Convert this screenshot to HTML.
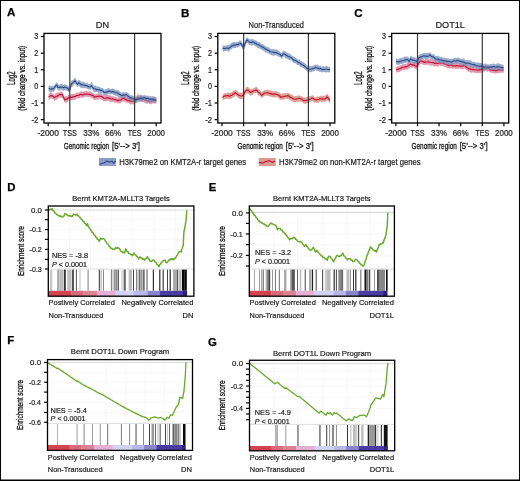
<!DOCTYPE html><html><head><meta charset="utf-8"><style>html,body{margin:0;padding:0;background:#fff;overflow:hidden}svg{display:block;will-change:transform}</style></head><body>
<svg width="520" height="481" viewBox="0 0 520 481" font-family="&quot;Liberation Sans&quot;, sans-serif">
<rect x="0" y="0" width="520" height="481" fill="#fff"/>
<polygon points="48.6,93.84 49.8,92.95 51,92.14 52.13,92.95 53.27,93.93 54.4,95.04 55.55,93.77 56.7,93.1 57.85,92.54 59,92.15 60.45,91.85 61.9,91.47 63.35,93.54 64.8,96.97 65.95,96.1 67.1,96.33 68.25,94.66 69.4,95.39 70.55,94.47 71.7,94.16 72.85,93.64 74,93.9 75.15,93.43 76.3,92.97 77.47,92.22 78.63,92.75 79.8,91.99 80.94,91.05 82.08,91.8 83.22,91.62 84.36,91.14 85.5,91.31 86.67,90.62 87.85,91.53 89.03,91.46 90.2,90.96 91.35,92.24 92.5,92.78 93.65,93.13 94.8,94.4 95.95,94.04 97.1,93.84 98.25,93.57 99.4,92.9 100.55,93.43 101.7,93.84 102.85,94.81 104,95.29 105.45,95.04 106.9,94.73 108.05,95.07 109.2,95.2 110.35,95.29 111.5,96.18 112.65,96.13 113.8,96.43 114.96,96.87 116.12,97.26 117.28,97.43 118.44,97.62 119.6,97.07 120.73,96.76 121.87,95.87 123,95.15 124,95.85 125,96.23 126,96.48 127,97.31 128,96.68 129,97.86 130,98.09 131.15,98.41 132.3,97.8 133.45,98.29 134.6,98.4 135.73,97.66 136.87,95.31 138,94.29 139.16,94.61 140.32,95.36 141.48,95.93 142.64,96.62 143.8,96.77 144.96,97.05 146.12,96.4 147.28,97.85 148.44,97.67 149.6,97.63 150.72,98.37 151.83,98.03 152.95,96.92 154.07,97.04 155.18,97.84 156.3,96.41 156.3,102.86 155.18,103.71 154.07,103.33 152.95,103.18 151.83,104.12 150.72,104.26 149.6,104.09 148.44,103.36 147.28,103.96 146.12,103.15 144.96,103 143.8,102.1 142.64,102.19 141.48,101.52 140.32,101.38 139.16,100.47 138,100.37 136.87,101.19 135.73,103.32 134.6,104.13 133.45,104.72 132.3,103.77 131.15,104.8 130,104.24 129,103.5 128,102.84 127,103.41 126,102.32 125,102.35 124,101.8 123,101.62 121.87,101.6 120.73,103.14 119.6,103.6 118.44,103.14 117.28,103.13 116.12,102.59 114.96,102.79 113.8,102.07 112.65,101.67 111.5,101.88 110.35,101.64 109.2,100.93 108.05,100.96 106.9,100.77 105.45,101.43 104,101.32 102.85,100.86 101.7,99.6 100.55,99.01 99.4,98.82 98.25,99.69 97.1,99.76 95.95,99.56 94.8,100.37 93.65,99.47 92.5,98.15 91.35,98.58 90.2,96.79 89.03,97.31 87.85,97.22 86.67,96.7 85.5,96.8 84.36,96.8 83.22,97.72 82.08,98 80.94,97.15 79.8,98.02 78.63,98.44 77.47,98.37 76.3,98.62 75.15,100.06 74,99.71 72.85,99.98 71.7,100.37 70.55,100.35 69.4,101.02 68.25,100.63 67.1,102.51 65.95,102.44 64.8,102.91 63.35,99.56 61.9,97.65 60.45,97.65 59,97.86 57.85,98.39 56.7,99.71 55.55,99.77 54.4,100.96 53.27,99.24 52.13,98.78 51,98.28 49.8,99.19 48.6,99.95" fill="#da7693" opacity="0.75"/>
<polyline points="48.6,97.08 49.8,96.39 51,95.55 52.13,95.85 53.27,96.49 54.4,97.59 55.55,96.77 56.7,96.53 57.85,95.7 59,94.89 60.45,94.55 61.9,94.35 63.35,96.78 64.8,99.95 65.95,99.12 67.1,99.22 68.25,97.88 69.4,97.99 70.55,97.12 71.7,97.47 72.85,96.83 74,96.56 75.15,96.63 76.3,95.57 77.47,95.2 78.63,95.57 79.8,94.81 80.94,94.31 82.08,95 83.22,94.84 84.36,93.97 85.5,94.13 86.67,93.95 87.85,94.18 89.03,94.53 90.2,94.2 91.35,95.3 92.5,95.35 93.65,96.08 94.8,97.28 95.95,96.66 97.1,96.43 98.25,96.34 99.4,95.98 100.55,96.35 101.7,96.48 102.85,97.55 104,98.22 105.45,98.18 106.9,97.85 108.05,97.85 109.2,98.14 110.35,98.72 111.5,98.99 112.65,98.77 113.8,99.16 114.96,99.52 116.12,99.89 117.28,100.4 118.44,100.36 119.6,100.18 120.73,100.12 121.87,99 123,98.32 124,98.46 125,99.06 126,99.44 127,100.2 128,100.01 129,100.83 130,100.91 131.15,101.5 132.3,101.03 133.45,101.37 134.6,101.56 135.73,100.49 136.87,98.63 138,97.66 139.16,97.78 140.32,98.18 141.48,98.7 142.64,99.47 143.8,99.38 144.96,100.17 146.12,99.82 147.28,100.86 148.44,100.72 149.6,100.92 150.72,101.22 151.83,101.17 152.95,100.16 154.07,100.19 155.18,100.44 156.3,99.86" fill="none" stroke="#c20f36" stroke-width="1.1" stroke-linejoin="round"/>
<polygon points="48.6,85.55 49.75,85.56 50.9,86.09 52.05,86.26 53.2,85.99 54.37,84.81 55.53,83.38 56.7,81.73 58,84.11 59,84.93 60,84.22 61,83.9 62,83.65 63,84.79 64,84.87 65,83.61 66,85.14 67,85.06 68.2,85.98 69.4,87.23 70.55,83.34 71.7,79.95 72.87,80.31 74.03,78.3 75.2,77.91 76.35,79.55 77.5,81.87 78.6,79.75 79.75,80.31 80.9,81.42 81.93,81.87 82.97,81.65 84,81.92 85.03,82.62 86.07,82.96 87.1,82.84 88.13,83.44 89.17,84.27 90.2,83.74 91.5,82.05 92.55,83.78 93.6,85.71 94.61,85.56 95.62,85.62 96.64,86.57 97.65,86.58 98.66,86.73 99.67,86.67 100.69,87.81 101.7,87.95 102.85,88.04 104,89.41 105.04,89.71 106.08,88.67 107.12,88.79 108.16,88.01 109.2,88.28 110.2,88.77 111.2,89.31 112.2,88.18 113.2,88.74 114.2,88.99 115.2,89.95 116.2,89.57 117.35,90.33 118.5,90.34 119.65,91.36 120.8,92.22 121.94,92.91 123.08,92.08 124.22,92.28 125.36,92.14 126.5,91.9 127.67,92.84 128.83,93.57 130,95.19 131.15,95.11 132.3,95.4 133.45,95.98 134.6,96.52 135.75,96.74 136.9,96.49 138.05,95.67 139.2,96.22 140.35,95.36 141.5,94.78 142.65,95.42 143.8,95.27 144.98,94.96 146.15,95.9 147.32,95.17 148.5,95.79 149.61,96.33 150.73,96.02 151.84,96.56 152.96,95.9 154.07,96.73 155.19,96.74 156.3,97.16 156.3,103.27 155.19,102.89 154.07,102.64 152.96,102.24 151.84,102.66 150.73,102.34 149.61,102.6 148.5,101.64 147.32,101.16 146.15,102.06 144.98,100.73 143.8,100.79 142.65,100.96 141.5,101.35 140.35,101.65 139.2,101.77 138.05,102.14 136.9,102.64 135.75,102.58 134.6,102.42 133.45,101.82 132.3,101.5 131.15,100.96 130,100.69 128.83,99.2 127.67,98.69 126.5,97.71 125.36,97.85 124.22,97.65 123.08,97.58 121.94,98.52 120.8,97.73 119.65,97.48 118.5,97.13 117.35,96.16 116.2,95.87 115.2,95.86 114.2,94.96 113.2,94.73 112.2,94.2 111.2,94.57 110.2,94.35 109.2,94.21 108.16,94.02 107.12,95.17 106.08,94.67 105.04,95.2 104,95.5 102.85,93.73 101.7,93.58 100.69,93.65 99.67,92.39 98.66,93.4 97.65,92.09 96.64,92.31 95.62,91.87 94.61,92.39 93.6,92.06 92.55,89.82 91.5,88.48 90.2,90.12 89.17,89.81 88.13,89.38 87.1,88.53 86.07,88.59 85.03,88.27 84,87.97 82.97,88.44 81.93,87.86 80.9,88.02 79.75,86.8 78.6,85.66 77.5,87.25 76.35,85.6 75.2,83.8 74.03,84.43 72.87,86.23 71.7,86.74 70.55,89.97 69.4,93.24 68.2,91.62 67,90.87 66,90.58 65,90.24 64,90.42 63,90.72 62,90.3 61,89.83 60,89.67 59,90.72 58,90.24 56.7,87.57 55.53,88.83 54.37,91.12 53.2,92.11 52.05,91.84 50.9,92.31 49.75,91.44 48.6,91.44" fill="#7890bb" opacity="0.75"/>
<polyline points="48.6,88.46 49.75,88.68 50.9,89.13 52.05,88.84 53.2,89.01 54.37,87.75 55.53,86.05 56.7,85.01 58,87.42 59,87.56 60,86.93 61,87.12 62,86.93 63,87.58 64,87.47 65,86.89 66,87.73 67,87.72 68.2,88.89 69.4,90.3 70.55,86.69 71.7,83.36 72.87,82.89 74.03,81.54 75.2,80.72 76.35,82.77 77.5,84.58 78.6,82.67 79.75,83.5 80.9,84.71 81.93,84.67 82.97,85.04 84,85.17 85.03,85.57 86.07,85.64 87.1,85.73 88.13,86.64 89.17,86.89 90.2,87.01 91.5,85.49 92.55,86.98 93.6,88.76 94.61,88.96 95.62,88.91 96.64,89.69 97.65,89.51 98.66,90.06 99.67,89.8 100.69,90.46 101.7,90.51 102.85,90.9 104,92.24 105.04,92.63 106.08,91.99 107.12,92.21 108.16,91.45 109.2,90.92 110.2,91.59 111.2,91.89 112.2,91.61 113.2,91.61 114.2,92.01 115.2,92.75 116.2,92.73 117.35,92.88 118.5,93.72 119.65,94.32 120.8,95 121.94,95.55 123.08,94.87 124.22,95.09 125.36,94.87 126.5,94.52 127.67,95.98 128.83,96.4 130,97.83 131.15,97.78 132.3,98.48 133.45,98.72 134.6,99.19 135.75,99.67 136.9,99.37 138.05,98.77 139.2,99.15 140.35,98.26 141.5,98.15 142.65,98.29 143.8,97.83 144.98,97.62 146.15,98.69 147.32,98.27 148.5,98.58 149.61,99.26 150.73,99.07 151.84,99.26 152.96,99.27 154.07,99.5 155.19,100.16 156.3,100.07" fill="none" stroke="#2a4a8a" stroke-width="1.1" stroke-linejoin="round"/>
<line x1="69.8" y1="33.4" x2="69.8" y2="123" stroke="#3a3a3a" stroke-width="1.2"/>
<line x1="134.6" y1="33.4" x2="134.6" y2="123" stroke="#3a3a3a" stroke-width="1.2"/>
<rect x="44" y="33.4" width="117" height="89.6" fill="none" stroke="#000" stroke-width="1.3"/>
<line x1="40.8" y1="36.54" x2="44" y2="36.54" stroke="#000" stroke-width="1.2"/>
<text x="38.2" y="39.44" font-size="8.4" text-anchor="end" textLength="4" lengthAdjust="spacingAndGlyphs" fill="#1a1a1a" stroke="#1a1a1a" stroke-width="0.2">3</text>
<line x1="40.8" y1="53.16" x2="44" y2="53.16" stroke="#000" stroke-width="1.2"/>
<text x="38.2" y="56.06" font-size="8.4" text-anchor="end" textLength="4" lengthAdjust="spacingAndGlyphs" fill="#1a1a1a" stroke="#1a1a1a" stroke-width="0.2">2</text>
<line x1="40.8" y1="69.78" x2="44" y2="69.78" stroke="#000" stroke-width="1.2"/>
<text x="38.2" y="72.68" font-size="8.4" text-anchor="end" textLength="4" lengthAdjust="spacingAndGlyphs" fill="#1a1a1a" stroke="#1a1a1a" stroke-width="0.2">1</text>
<line x1="40.8" y1="86.4" x2="44" y2="86.4" stroke="#000" stroke-width="1.2"/>
<text x="38.2" y="89.3" font-size="8.4" text-anchor="end" textLength="4" lengthAdjust="spacingAndGlyphs" fill="#1a1a1a" stroke="#1a1a1a" stroke-width="0.2">0</text>
<line x1="40.8" y1="103.02" x2="44" y2="103.02" stroke="#000" stroke-width="1.2"/>
<text x="38.2" y="105.92" font-size="8.4" text-anchor="end" textLength="6.8" lengthAdjust="spacingAndGlyphs" fill="#1a1a1a" stroke="#1a1a1a" stroke-width="0.2">-1</text>
<line x1="40.8" y1="119.64" x2="44" y2="119.64" stroke="#000" stroke-width="1.2"/>
<text x="38.2" y="122.54" font-size="8.4" text-anchor="end" textLength="6.8" lengthAdjust="spacingAndGlyphs" fill="#1a1a1a" stroke="#1a1a1a" stroke-width="0.2">-2</text>
<line x1="48.2" y1="123" x2="48.2" y2="126.2" stroke="#000" stroke-width="1.2"/>
<text x="48.2" y="136" font-size="8.4" text-anchor="middle" textLength="21.5" lengthAdjust="spacingAndGlyphs" fill="#1a1a1a" stroke="#1a1a1a" stroke-width="0.2">-2000</text>
<line x1="69.8" y1="123" x2="69.8" y2="126.2" stroke="#000" stroke-width="1.2"/>
<text x="69.8" y="136" font-size="8.4" text-anchor="middle" textLength="14" lengthAdjust="spacingAndGlyphs" fill="#1a1a1a" stroke="#1a1a1a" stroke-width="0.2">TSS</text>
<line x1="91.4" y1="123" x2="91.4" y2="126.2" stroke="#000" stroke-width="1.2"/>
<text x="91.4" y="136" font-size="8.4" text-anchor="middle" textLength="16.1" lengthAdjust="spacingAndGlyphs" fill="#1a1a1a" stroke="#1a1a1a" stroke-width="0.2">33%</text>
<line x1="113" y1="123" x2="113" y2="126.2" stroke="#000" stroke-width="1.2"/>
<text x="113" y="136" font-size="8.4" text-anchor="middle" textLength="16.1" lengthAdjust="spacingAndGlyphs" fill="#1a1a1a" stroke="#1a1a1a" stroke-width="0.2">66%</text>
<line x1="134.6" y1="123" x2="134.6" y2="126.2" stroke="#000" stroke-width="1.2"/>
<text x="134.6" y="136" font-size="8.4" text-anchor="middle" textLength="13.8" lengthAdjust="spacingAndGlyphs" fill="#1a1a1a" stroke="#1a1a1a" stroke-width="0.2">TES</text>
<line x1="156.2" y1="123" x2="156.2" y2="126.2" stroke="#000" stroke-width="1.2"/>
<text x="156.2" y="136" font-size="8.4" text-anchor="middle" textLength="17.7" lengthAdjust="spacingAndGlyphs" fill="#1a1a1a" stroke="#1a1a1a" stroke-width="0.2">2000</text>
<text x="63.8" y="149.1" font-size="9.9" textLength="45.3" lengthAdjust="spacingAndGlyphs" fill="#1a1a1a" stroke="#111" stroke-width="0.32">Genomic region</text>
<text x="112" y="149.1" font-size="9.9" textLength="27.9" lengthAdjust="spacingAndGlyphs" fill="#1a1a1a" stroke="#111" stroke-width="0.32">[5'--&gt; 3']</text>
<g transform="translate(14.7,78.2) rotate(-90)">
<text x="0" y="0" font-size="10.2" text-anchor="middle" textLength="13.5" lengthAdjust="spacingAndGlyphs" fill="#1a1a1a" stroke="#111" stroke-width="0.32">Log2</text>
</g>
<g transform="translate(24.7,78.3) rotate(-90)">
<text x="0" y="0" font-size="9.0" text-anchor="middle" textLength="65" lengthAdjust="spacingAndGlyphs" fill="#1a1a1a" stroke="#111" stroke-width="0.32">(fold change vs. input)</text>
</g>
<text x="102.5" y="28.1" font-size="9.8" text-anchor="middle" textLength="13.3" lengthAdjust="spacingAndGlyphs" fill="#1a1a1a" stroke="#1a1a1a" stroke-width="0.2">DN</text>
<polygon points="222.6,94.58 223.73,93.67 224.87,93.03 226,93.15 227.17,92.91 228.33,92.22 229.5,93.34 230.65,92.58 231.8,92.21 232.97,90.7 234.13,91.05 235.3,89.48 236.47,90.35 237.63,91.21 238.8,92.59 239.93,92.65 241.07,92.64 242.2,92.54 243.37,91.59 244.53,90.14 245.7,87.54 246.85,86.92 248,86.75 249.15,88 250.3,89.23 251.44,88.75 252.58,88.81 253.72,88.16 254.86,87.74 256,86.49 257.16,87.51 258.32,89.61 259.48,89.33 260.64,90.95 261.8,92.4 262.97,91.26 264.13,90.37 265.3,90.19 266.44,90.04 267.58,89.63 268.72,89.71 269.86,90.4 271,89.99 272.08,91.43 273.17,90.7 274.25,91.47 275.33,91.25 276.42,91.05 277.5,91.77 278.67,92.29 279.83,92.81 281,94.36 282.13,93.41 283.27,94.06 284.4,93.04 285.53,93.23 286.67,93.48 287.8,92.94 288.96,92.67 290.12,94.44 291.28,94.19 292.44,95.12 293.6,96.24 294.75,96.59 295.9,95.8 297.05,95.65 298.2,95.7 299.35,94.93 300.5,96.13 301.67,96.32 302.83,97.12 304,97.54 305.15,97.81 306.3,97.38 307.45,96.79 308.6,96.58 309.73,96.16 310.87,96.24 312,95.04 313.17,95.58 314.33,96.89 315.5,97.22 316.62,96.42 317.75,96.56 318.88,96.64 320,95.7 321.2,95.83 322.4,95.89 323.6,95.62 324.8,95.77 325.9,94.89 327,93.81 328,94.6 329,96.25 330,97.75 330,103.38 329,102.15 328,100.7 327,100.31 325.9,101.46 324.8,101.84 323.6,101.72 322.4,101.83 321.2,102.32 320,101.03 318.88,102.42 317.75,102.77 316.62,102.67 315.5,102.54 314.33,102.86 313.17,101.36 312,100.72 310.87,101.56 309.73,102.02 308.6,102.59 307.45,102.95 306.3,103.53 305.15,103.77 304,103.83 302.83,102.67 301.67,102.09 300.5,101.82 299.35,101.29 298.2,101.95 297.05,101.65 295.9,102.1 294.75,101.92 293.6,101.92 292.44,101.53 291.28,100.49 290.12,100.06 288.96,99.2 287.8,99.07 286.67,98.63 285.53,98.78 284.4,99.32 283.27,99.58 282.13,99.5 281,100.12 279.83,99.23 278.67,98.6 277.5,97.36 276.42,97.33 275.33,97.53 274.25,97.46 273.17,97.04 272.08,97.11 271,96.66 269.86,96.48 268.72,95.88 267.58,95.84 266.44,95.78 265.3,95.84 264.13,96.1 262.97,97.01 261.8,98.24 260.64,96.78 259.48,95.57 258.32,95.67 257.16,93.22 256,92.67 254.86,93.24 253.72,93.62 252.58,94.73 251.44,95.16 250.3,95.86 249.15,94.23 248,93.51 246.85,93.54 245.7,93.68 244.53,96.03 243.37,97.92 242.2,98.71 241.07,99.36 239.93,99.18 238.8,98.17 237.63,97.33 236.47,96.17 235.3,95.18 234.13,97.17 232.97,97.27 231.8,98.52 230.65,98.86 229.5,98.91 228.33,98.9 227.17,98.54 226,99.14 224.87,99.07 223.73,99.46 222.6,100.4" fill="#d3806e" opacity="0.75"/>
<polyline points="222.6,97.71 223.73,96.41 224.87,95.74 226,96.05 227.17,95.52 228.33,95.66 229.5,96.34 230.65,95.46 231.8,95.35 232.97,93.99 234.13,93.88 235.3,92.54 236.47,93.56 237.63,94.62 238.8,95.17 239.93,95.78 241.07,95.99 242.2,95.79 243.37,94.81 244.53,92.81 245.7,90.83 246.85,90.12 248,90.11 249.15,91.02 250.3,92.49 251.44,91.89 252.58,91.6 253.72,90.78 254.86,90.44 256,89.9 257.16,90.62 258.32,92.29 259.48,92.75 260.64,94.21 261.8,95.41 262.97,94.37 264.13,93.14 265.3,92.99 266.44,93.07 267.58,92.86 268.72,92.95 269.86,93.61 271,93.38 272.08,94.28 273.17,94.01 274.25,94.12 275.33,94.12 276.42,94.44 277.5,94.77 278.67,95.19 279.83,96.22 281,97.37 282.13,96.83 283.27,96.82 284.4,96.49 285.53,96.11 286.67,96.04 287.8,95.63 288.96,95.91 290.12,97.41 291.28,97.51 292.44,98.26 293.6,98.91 294.75,99.3 295.9,99.24 297.05,98.76 298.2,98.58 299.35,98.22 300.5,98.86 301.67,98.97 302.83,100.08 304,100.66 305.15,100.5 306.3,100.37 307.45,100.07 308.6,99.78 309.73,99.47 310.87,98.93 312,98.03 313.17,98.4 314.33,99.61 315.5,99.8 316.62,99.69 317.75,99.65 318.88,99.3 320,98.46 321.2,98.94 322.4,98.75 323.6,98.9 324.8,99.08 325.9,98.29 327,96.92 328,97.84 329,99.24 330,100.33" fill="none" stroke="#c20f36" stroke-width="1.1" stroke-linejoin="round"/>
<polygon points="222.6,44.61 223.76,45.75 224.92,45.67 226.08,45.27 227.24,45.35 228.4,45.16 229.53,44.59 230.67,43.59 231.8,42.93 232.8,42.21 233.8,41.65 234.8,41.97 235.8,42.41 236.8,41.76 237.8,41.94 238.8,40.94 239.9,40.49 241,40.7 242.2,42.87 243.4,44.52 244.53,41.71 245.67,39.35 246.8,37.09 247.97,38.08 249.13,39.07 250.3,39.25 251.45,39.54 252.6,38.85 253.76,39.48 254.92,40.17 256.08,40.33 257.24,41.4 258.4,42 259.56,42.11 260.72,43.23 261.88,44.29 263.04,43.89 264.2,44.97 265.36,46.34 266.52,46.54 267.68,47.37 268.84,47.14 270,48.54 271,49.24 272,49.34 273,48.93 274,49.01 275.15,49.44 276.3,49.13 277.45,50.13 278.6,50.47 280.05,51.71 281.5,53.32 283.2,50.51 284.21,51.03 285.23,51.37 286.24,52.18 287.25,52.44 288.26,53.52 289.27,53.56 290.29,53.99 291.3,54.92 292.44,56.02 293.58,56.5 294.72,57.33 295.86,58.15 297,58.79 298.16,59.69 299.32,59.21 300.48,60.67 301.64,60.96 302.8,62.35 303.84,62.22 304.88,63.49 305.92,64.04 306.96,65.76 308,65.69 309,65.88 310,66.13 311,66.07 312.12,65.99 313.25,65.55 314.38,65.13 315.5,64.23 316.5,65.11 317.5,64.58 318.5,65.48 319.5,65.69 320.5,65.64 321.5,66.62 322.5,66.24 323.57,66.35 324.64,66.54 325.71,66.3 326.79,65.84 327.86,66.48 328.93,67.28 330,66.17 330,72.34 328.93,72.41 327.86,71.97 326.79,72.41 325.71,72.35 324.64,72.1 323.57,72.17 322.5,71.98 321.5,72.38 320.5,71.82 319.5,71.96 318.5,70.97 317.5,71.36 316.5,70.43 315.5,69.98 314.38,71.02 313.25,71.44 312.12,71.44 311,72.35 310,72.17 309,72.26 308,72.26 306.96,71.48 305.92,70.06 304.88,69.39 303.84,68.24 302.8,68.27 301.64,67.04 300.48,67.01 299.32,65.43 298.16,65.26 297,64.95 295.86,63.6 294.72,63.3 293.58,63.03 292.44,61.83 291.3,60.47 290.29,60.28 289.27,60.26 288.26,59.47 287.25,58.66 286.24,58.4 285.23,57.93 284.21,56.82 283.2,56.47 281.5,59.23 280.05,57.06 278.6,56.7 277.45,56.01 276.3,55.39 275.15,55.36 274,55.81 273,55.68 272,55.27 271,54.93 270,54.52 268.84,53.73 267.68,53.06 266.52,52.39 265.36,52.39 264.2,51.21 263.04,50.47 261.88,50.12 260.72,49.17 259.56,48.8 258.4,48.11 257.24,47.8 256.08,46.3 254.92,46.33 253.76,44.8 252.6,45.2 251.45,45.73 250.3,45.14 249.13,44.63 247.97,43.58 246.8,42.74 245.67,45.81 244.53,48.42 243.4,50.5 242.2,48.62 241,46.23 239.9,46.3 238.8,46.71 237.8,47.63 236.8,47.23 235.8,48.06 234.8,48.06 233.8,48.17 232.8,48.07 231.8,49.11 230.67,49.73 229.53,51.04 228.4,51.85 227.24,50.66 226.08,50.9 224.92,51.07 223.76,51.91 222.6,50.83" fill="#7890bb" opacity="0.75"/>
<polyline points="222.6,48 223.76,48.47 224.92,48.42 226.08,48.28 227.24,48.04 228.4,48.56 229.53,47.81 230.67,46.78 231.8,46 232.8,45.51 233.8,45.04 234.8,45.11 235.8,45.05 236.8,44.33 237.8,44.72 238.8,43.96 239.9,43.71 241,43.29 242.2,45.85 243.4,47.31 244.53,45.14 245.67,42.6 246.8,39.78 247.97,40.81 249.13,41.73 250.3,42.15 251.45,42.61 252.6,41.78 253.76,42.17 254.92,43.35 256.08,43.3 257.24,44.61 258.4,44.76 259.56,45.55 260.72,46.06 261.88,46.89 263.04,47.32 264.2,47.88 265.36,49.21 266.52,49.22 267.68,50.29 268.84,50.36 270,51.62 271,51.83 272,51.98 273,52.26 274,52.37 275.15,52.81 276.3,52.56 277.45,53.18 278.6,53.79 280.05,54.38 281.5,56.18 283.2,53.85 284.21,53.99 285.23,54.53 286.24,55.18 287.25,55.7 288.26,56.82 289.27,56.85 290.29,57.1 291.3,57.73 292.44,58.98 293.58,59.9 294.72,60.14 295.86,60.81 297,61.55 298.16,62.42 299.32,62.65 300.48,63.7 301.64,64.35 302.8,65.11 303.84,65.51 304.88,66.3 305.92,67.26 306.96,68.58 308,68.86 309,69.29 310,69.23 311,69.24 312.12,68.63 313.25,68.73 314.38,68.12 315.5,67.19 316.5,67.71 317.5,67.94 318.5,68.39 319.5,68.68 320.5,68.43 321.5,69.2 322.5,69.42 323.57,69.17 324.64,69.52 325.71,69.25 326.79,69.23 327.86,69.2 328.93,69.85 330,69.3" fill="none" stroke="#2a4a8a" stroke-width="1.1" stroke-linejoin="round"/>
<line x1="243.6" y1="33.4" x2="243.6" y2="123" stroke="#3a3a3a" stroke-width="1.2"/>
<line x1="308.4" y1="33.4" x2="308.4" y2="123" stroke="#3a3a3a" stroke-width="1.2"/>
<rect x="217.8" y="33.4" width="117" height="89.6" fill="none" stroke="#000" stroke-width="1.3"/>
<line x1="214.6" y1="36.54" x2="217.8" y2="36.54" stroke="#000" stroke-width="1.2"/>
<text x="212" y="39.44" font-size="8.4" text-anchor="end" textLength="4" lengthAdjust="spacingAndGlyphs" fill="#1a1a1a" stroke="#1a1a1a" stroke-width="0.2">3</text>
<line x1="214.6" y1="53.16" x2="217.8" y2="53.16" stroke="#000" stroke-width="1.2"/>
<text x="212" y="56.06" font-size="8.4" text-anchor="end" textLength="4" lengthAdjust="spacingAndGlyphs" fill="#1a1a1a" stroke="#1a1a1a" stroke-width="0.2">2</text>
<line x1="214.6" y1="69.78" x2="217.8" y2="69.78" stroke="#000" stroke-width="1.2"/>
<text x="212" y="72.68" font-size="8.4" text-anchor="end" textLength="4" lengthAdjust="spacingAndGlyphs" fill="#1a1a1a" stroke="#1a1a1a" stroke-width="0.2">1</text>
<line x1="214.6" y1="86.4" x2="217.8" y2="86.4" stroke="#000" stroke-width="1.2"/>
<text x="212" y="89.3" font-size="8.4" text-anchor="end" textLength="4" lengthAdjust="spacingAndGlyphs" fill="#1a1a1a" stroke="#1a1a1a" stroke-width="0.2">0</text>
<line x1="214.6" y1="103.02" x2="217.8" y2="103.02" stroke="#000" stroke-width="1.2"/>
<text x="212" y="105.92" font-size="8.4" text-anchor="end" textLength="6.8" lengthAdjust="spacingAndGlyphs" fill="#1a1a1a" stroke="#1a1a1a" stroke-width="0.2">-1</text>
<line x1="214.6" y1="119.64" x2="217.8" y2="119.64" stroke="#000" stroke-width="1.2"/>
<text x="212" y="122.54" font-size="8.4" text-anchor="end" textLength="6.8" lengthAdjust="spacingAndGlyphs" fill="#1a1a1a" stroke="#1a1a1a" stroke-width="0.2">-2</text>
<line x1="222" y1="123" x2="222" y2="126.2" stroke="#000" stroke-width="1.2"/>
<text x="222" y="136" font-size="8.4" text-anchor="middle" textLength="21.5" lengthAdjust="spacingAndGlyphs" fill="#1a1a1a" stroke="#1a1a1a" stroke-width="0.2">-2000</text>
<line x1="243.6" y1="123" x2="243.6" y2="126.2" stroke="#000" stroke-width="1.2"/>
<text x="243.6" y="136" font-size="8.4" text-anchor="middle" textLength="14" lengthAdjust="spacingAndGlyphs" fill="#1a1a1a" stroke="#1a1a1a" stroke-width="0.2">TSS</text>
<line x1="265.2" y1="123" x2="265.2" y2="126.2" stroke="#000" stroke-width="1.2"/>
<text x="265.2" y="136" font-size="8.4" text-anchor="middle" textLength="16.1" lengthAdjust="spacingAndGlyphs" fill="#1a1a1a" stroke="#1a1a1a" stroke-width="0.2">33%</text>
<line x1="286.8" y1="123" x2="286.8" y2="126.2" stroke="#000" stroke-width="1.2"/>
<text x="286.8" y="136" font-size="8.4" text-anchor="middle" textLength="16.1" lengthAdjust="spacingAndGlyphs" fill="#1a1a1a" stroke="#1a1a1a" stroke-width="0.2">66%</text>
<line x1="308.4" y1="123" x2="308.4" y2="126.2" stroke="#000" stroke-width="1.2"/>
<text x="308.4" y="136" font-size="8.4" text-anchor="middle" textLength="13.8" lengthAdjust="spacingAndGlyphs" fill="#1a1a1a" stroke="#1a1a1a" stroke-width="0.2">TES</text>
<line x1="330" y1="123" x2="330" y2="126.2" stroke="#000" stroke-width="1.2"/>
<text x="330" y="136" font-size="8.4" text-anchor="middle" textLength="17.7" lengthAdjust="spacingAndGlyphs" fill="#1a1a1a" stroke="#1a1a1a" stroke-width="0.2">2000</text>
<text x="237.6" y="149.1" font-size="9.9" textLength="45.3" lengthAdjust="spacingAndGlyphs" fill="#1a1a1a" stroke="#111" stroke-width="0.32">Genomic region</text>
<text x="285.8" y="149.1" font-size="9.9" textLength="27.9" lengthAdjust="spacingAndGlyphs" fill="#1a1a1a" stroke="#111" stroke-width="0.32">[5'--&gt; 3']</text>
<g transform="translate(188.5,78.2) rotate(-90)">
<text x="0" y="0" font-size="10.2" text-anchor="middle" textLength="13.5" lengthAdjust="spacingAndGlyphs" fill="#1a1a1a" stroke="#111" stroke-width="0.32">Log2</text>
</g>
<g transform="translate(198.5,78.3) rotate(-90)">
<text x="0" y="0" font-size="9.0" text-anchor="middle" textLength="65" lengthAdjust="spacingAndGlyphs" fill="#1a1a1a" stroke="#111" stroke-width="0.32">(fold change vs. input)</text>
</g>
<text x="276.3" y="27.5" font-size="8.8" text-anchor="middle" textLength="55.4" lengthAdjust="spacingAndGlyphs" fill="#1a1a1a" stroke="#1a1a1a" stroke-width="0.2">Non-Transduced</text>
<polygon points="396,67.25 397.04,66.22 398.08,66.35 399.12,66.26 400.16,65.34 401.2,65.46 402.36,64.09 403.52,64.52 404.68,63.77 405.84,63.98 407,63.31 408.17,62.5 409.33,62.23 410.5,61.15 411.62,62.09 412.75,61.9 413.88,61.75 415,62.46 416.8,63.34 418.25,61.31 419.7,58.84 420.85,57.76 422,58.12 423.15,58.44 424.3,59.89 425.45,58.41 426.6,59.29 427.75,58.75 428.9,59.14 430.05,58.85 431.2,59.19 432.35,59.89 433.5,59.83 434.65,60.96 435.8,60.33 436.96,60.69 438.12,59.89 439.28,60.08 440.44,60.33 441.6,59.95 442.76,59.85 443.92,60.09 445.08,61.37 446.24,61.74 447.4,61.68 448.55,62.43 449.7,62.43 450.85,62.07 452,62.3 453.07,63.4 454.14,62.83 455.21,62.92 456.29,62.14 457.36,62.64 458.43,63.49 459.5,62.5 460.66,62.65 461.82,63.3 462.98,63.3 464.14,62.67 465.3,62.73 466.47,64.5 467.63,64.92 468.8,65.57 469.8,65.5 470.8,66.07 471.8,66.19 472.8,66.09 473.8,66.49 474.8,66.53 475.8,67.05 476.8,66.93 477.98,67.67 479.15,66.91 480.32,66.86 481.5,66.3 482.67,66.39 483.83,66.13 485,65.66 486.02,65.02 487.04,65.68 488.07,65.85 489.09,65.78 490.11,66.63 491.13,67.1 492.16,67.06 493.18,67.71 494.2,67.2 495.24,67.17 496.29,67.53 497.33,66.84 498.38,67.08 499.42,66.97 500.47,66.53 501.51,67.49 502.56,67.09 503.6,67.49 503.6,73.31 502.56,72.62 501.51,72.66 500.47,72.62 499.42,72.99 498.38,73 497.33,73.18 496.29,73.21 495.24,73.68 494.2,72.79 493.18,73.48 492.16,73.01 491.13,72.46 490.11,72.82 489.09,71.56 488.07,71.28 487.04,71.88 486.02,71.11 485,71.31 483.83,71.8 482.67,72.25 481.5,72.48 480.32,73.22 479.15,72.68 477.98,72.92 476.8,72.95 475.8,73.06 474.8,73 473.8,72.24 472.8,72.25 471.8,72.67 470.8,72.64 469.8,71.36 468.8,72.3 467.63,70.95 466.47,70.32 465.3,68.88 464.14,68.5 462.98,69.36 461.82,69.14 460.66,68.97 459.5,68.46 458.43,68.96 457.36,68.74 456.29,69.02 455.21,68.73 454.14,68.34 453.07,69.21 452,68.49 450.85,68.25 449.7,68.55 448.55,68.21 447.4,68.31 446.24,67.42 445.08,66.63 443.92,66.53 442.76,66.16 441.6,65.81 440.44,65.99 439.28,65.62 438.12,66.45 436.96,66.8 435.8,66.16 434.65,66.65 433.5,65.98 432.35,65.35 431.2,65.87 430.05,65.29 428.9,64.71 427.75,64.77 426.6,65.04 425.45,64.41 424.3,65.6 423.15,64.63 422,64.26 420.85,64.12 419.7,64.62 418.25,67.16 416.8,69.6 415,68.67 413.88,67.5 412.75,67.53 411.62,68.3 410.5,67.15 409.33,68.21 408.17,69.27 407,69.5 405.84,69.55 404.68,70.54 403.52,69.79 402.36,70.18 401.2,71.09 400.16,71.38 399.12,72 398.08,72.54 397.04,72.1 396,72.88" fill="#da7693" opacity="0.75"/>
<polyline points="396,69.82 397.04,69.48 398.08,69.1 399.12,69.18 400.16,68.36 401.2,68.1 402.36,67.2 403.52,67.23 404.68,67.19 405.84,66.56 407,66.6 408.17,65.94 409.33,64.88 410.5,63.95 411.62,64.93 412.75,64.66 413.88,64.86 415,65.81 416.8,66.51 418.25,63.9 419.7,61.41 420.85,61.01 422,61.17 423.15,61.48 424.3,62.53 425.45,61.85 426.6,61.99 427.75,61.97 428.9,62.09 430.05,62.18 431.2,62.57 432.35,62.55 433.5,62.83 434.65,63.54 435.8,63 436.96,63.46 438.12,63.27 439.28,63 440.44,62.89 441.6,62.94 442.76,63.24 443.92,63.38 445.08,63.93 446.24,64.31 447.4,64.91 448.55,65.59 449.7,65.23 450.85,65.06 452,65.58 453.07,65.97 454.14,65.72 455.21,66.04 456.29,65.57 457.36,65.63 458.43,66.26 459.5,65.79 460.66,66.02 461.82,66.1 462.98,65.92 464.14,65.78 465.3,65.76 466.47,67.37 467.63,67.9 468.8,68.91 469.8,68.71 470.8,69.33 471.8,69.46 472.8,69.46 473.8,69.59 474.8,69.78 475.8,69.74 476.8,70.09 477.98,70.25 479.15,69.63 480.32,70.06 481.5,69.61 482.67,69.33 483.83,69.16 485,68.63 486.02,68.36 487.04,68.65 488.07,68.62 489.09,68.83 490.11,69.85 491.13,69.72 492.16,70.24 493.18,70.26 494.2,70.03 495.24,70.62 496.29,70.58 497.33,70.16 498.38,69.82 499.42,70.04 500.47,69.9 501.51,70.08 502.56,69.82 503.6,70.39" fill="none" stroke="#c20f36" stroke-width="1.1" stroke-linejoin="round"/>
<polygon points="396,58.44 397.04,58.87 398.08,59.2 399.12,58.77 400.16,57.85 401.2,58.04 402.36,57.6 403.52,57.52 404.68,56.39 405.84,56.54 407,56.67 408.15,56.62 409.3,58.63 410.5,55.39 411.62,55.92 412.75,57.59 413.88,56.88 415,57.28 416.8,58.86 417.9,56.84 419,54.75 420,54.6 421,53.66 422,53.73 423,53.16 424,52.87 425,53.36 426,53.03 427,53.02 428,52.84 429,52.92 430,52.15 431.16,53.6 432.32,54.21 433.48,53.95 434.64,54.91 435.8,56.35 436.98,55.77 438.15,55.93 439.32,56.47 440.5,56.9 441.64,56.69 442.78,57.54 443.92,57.76 445.06,57.78 446.2,58.12 447.36,58.6 448.52,58.62 449.68,58.93 450.84,58.38 452,59.02 453.8,58.18 454.94,57.75 456.08,57.63 457.22,57.87 458.36,57.47 459.5,58.02 460.66,58.67 461.82,58.73 462.98,58.38 464.14,58.83 465.3,59.94 466.44,60.19 467.58,60.2 468.72,60.24 469.86,60.1 471,60.94 472.16,61.41 473.32,61.94 474.48,61.61 475.64,62.59 476.8,62.67 477.98,62.41 479.15,62.74 480.32,63.09 481.5,62.67 482.67,63.18 483.83,63.92 485,63.51 486.02,63.85 487.04,64.25 488.07,64.11 489.09,64.72 490.11,64.02 491.13,63.81 492.16,64.34 493.18,63.33 494.2,63.68 495.24,64.18 496.29,63.99 497.33,63.32 498.38,63.25 499.42,63.77 500.47,64.02 501.51,64.23 502.56,64.7 503.6,64.94 503.6,70.41 502.56,70.65 501.51,70.38 500.47,70.57 499.42,69.34 498.38,69.24 497.33,69.42 496.29,70.21 495.24,69.66 494.2,69.84 493.18,69.21 492.16,70.32 491.13,69.6 490.11,70.31 489.09,70.14 488.07,70.05 487.04,69.74 486.02,69.82 485,70.11 483.83,70.31 482.67,69 481.5,68.69 480.32,69.03 479.15,69.57 477.98,68.56 476.8,68.63 475.64,68.09 474.48,67.27 473.32,68.3 472.16,67.63 471,67.25 469.86,66.16 468.72,65.95 467.58,66.57 466.44,66.06 465.3,66.01 464.14,65.45 462.98,64.87 461.82,65.21 460.66,64.59 459.5,64.4 458.36,63.5 457.22,63.54 456.08,64.11 454.94,63.55 453.8,64.13 452,65.08 450.84,65.2 449.68,64.56 448.52,64.31 447.36,64.19 446.2,64.72 445.06,63.81 443.92,63.17 442.78,63.93 441.64,62.5 440.5,62.71 439.32,62.65 438.15,62.2 436.98,62.41 435.8,62.39 434.64,61.38 433.48,59.86 432.32,60.02 431.16,59.15 430,58.21 429,58.24 428,58.85 427,59.3 426,59.09 425,59.08 424,58.49 423,58.8 422,59.3 421,59.42 420,60.73 419,60.72 417.9,62.44 416.8,64.5 415,63.84 413.88,63.49 412.75,63.14 411.62,62.36 410.5,62.06 409.3,64.13 408.15,63.21 407,62.11 405.84,63.17 404.68,62.72 403.52,63.56 402.36,63.85 401.2,64.31 400.16,64.19 399.12,64.73 398.08,65.09 397.04,64.65 396,64.82" fill="#7890bb" opacity="0.75"/>
<polyline points="396,61.66 397.04,61.63 398.08,61.76 399.12,61.91 400.16,61.29 401.2,61.15 402.36,60.8 403.52,60.81 404.68,59.8 405.84,59.88 407,59.35 408.15,60.02 409.3,61.53 410.5,58.65 411.62,59.2 412.75,60.3 413.88,60.06 415,60.57 416.8,61.9 417.9,59.66 419,57.73 420,57.28 421,56.75 422,56.71 423,55.97 424,55.9 425,56.16 426,56.06 427,56.35 428,56.18 429,55.67 430,54.93 431.16,56.2 432.32,57.04 433.48,56.88 434.64,58.21 435.8,59.03 436.98,59.11 438.15,59 439.32,59.79 440.5,60.01 441.64,59.86 442.78,60.61 443.92,60.57 445.06,60.75 446.2,61.35 447.36,61.35 448.52,61.41 449.68,61.63 450.84,61.8 452,61.92 453.8,60.83 454.94,60.96 456.08,60.9 457.22,60.59 458.36,60.59 459.5,61.11 460.66,61.38 461.82,61.84 462.98,61.65 464.14,62.08 465.3,63.08 466.44,63.01 467.58,63.32 468.72,63 469.86,63.49 471,64.17 472.16,64.29 473.32,64.96 474.48,64.61 475.64,65.2 476.8,65.87 477.98,65.7 479.15,66.16 480.32,66.11 481.5,65.86 482.67,66.21 483.83,67.37 485,66.96 486.02,66.96 487.04,67.02 488.07,67.29 489.09,67.35 490.11,66.94 491.13,66.9 492.16,67.09 493.18,66.57 494.2,66.59 495.24,66.87 496.29,66.96 497.33,66.48 498.38,66.62 499.42,66.71 500.47,67.3 501.51,67.34 502.56,67.66 503.6,67.54" fill="none" stroke="#2a4a8a" stroke-width="1.1" stroke-linejoin="round"/>
<line x1="417.5" y1="33.4" x2="417.5" y2="123" stroke="#3a3a3a" stroke-width="1.2"/>
<line x1="482.3" y1="33.4" x2="482.3" y2="123" stroke="#3a3a3a" stroke-width="1.2"/>
<rect x="391.7" y="33.4" width="117" height="89.6" fill="none" stroke="#000" stroke-width="1.3"/>
<line x1="388.5" y1="36.54" x2="391.7" y2="36.54" stroke="#000" stroke-width="1.2"/>
<text x="385.9" y="39.44" font-size="8.4" text-anchor="end" textLength="4" lengthAdjust="spacingAndGlyphs" fill="#1a1a1a" stroke="#1a1a1a" stroke-width="0.2">3</text>
<line x1="388.5" y1="53.16" x2="391.7" y2="53.16" stroke="#000" stroke-width="1.2"/>
<text x="385.9" y="56.06" font-size="8.4" text-anchor="end" textLength="4" lengthAdjust="spacingAndGlyphs" fill="#1a1a1a" stroke="#1a1a1a" stroke-width="0.2">2</text>
<line x1="388.5" y1="69.78" x2="391.7" y2="69.78" stroke="#000" stroke-width="1.2"/>
<text x="385.9" y="72.68" font-size="8.4" text-anchor="end" textLength="4" lengthAdjust="spacingAndGlyphs" fill="#1a1a1a" stroke="#1a1a1a" stroke-width="0.2">1</text>
<line x1="388.5" y1="86.4" x2="391.7" y2="86.4" stroke="#000" stroke-width="1.2"/>
<text x="385.9" y="89.3" font-size="8.4" text-anchor="end" textLength="4" lengthAdjust="spacingAndGlyphs" fill="#1a1a1a" stroke="#1a1a1a" stroke-width="0.2">0</text>
<line x1="388.5" y1="103.02" x2="391.7" y2="103.02" stroke="#000" stroke-width="1.2"/>
<text x="385.9" y="105.92" font-size="8.4" text-anchor="end" textLength="6.8" lengthAdjust="spacingAndGlyphs" fill="#1a1a1a" stroke="#1a1a1a" stroke-width="0.2">-1</text>
<line x1="388.5" y1="119.64" x2="391.7" y2="119.64" stroke="#000" stroke-width="1.2"/>
<text x="385.9" y="122.54" font-size="8.4" text-anchor="end" textLength="6.8" lengthAdjust="spacingAndGlyphs" fill="#1a1a1a" stroke="#1a1a1a" stroke-width="0.2">-2</text>
<line x1="395.9" y1="123" x2="395.9" y2="126.2" stroke="#000" stroke-width="1.2"/>
<text x="395.9" y="136" font-size="8.4" text-anchor="middle" textLength="21.5" lengthAdjust="spacingAndGlyphs" fill="#1a1a1a" stroke="#1a1a1a" stroke-width="0.2">-2000</text>
<line x1="417.5" y1="123" x2="417.5" y2="126.2" stroke="#000" stroke-width="1.2"/>
<text x="417.5" y="136" font-size="8.4" text-anchor="middle" textLength="14" lengthAdjust="spacingAndGlyphs" fill="#1a1a1a" stroke="#1a1a1a" stroke-width="0.2">TSS</text>
<line x1="439.1" y1="123" x2="439.1" y2="126.2" stroke="#000" stroke-width="1.2"/>
<text x="439.1" y="136" font-size="8.4" text-anchor="middle" textLength="16.1" lengthAdjust="spacingAndGlyphs" fill="#1a1a1a" stroke="#1a1a1a" stroke-width="0.2">33%</text>
<line x1="460.7" y1="123" x2="460.7" y2="126.2" stroke="#000" stroke-width="1.2"/>
<text x="460.7" y="136" font-size="8.4" text-anchor="middle" textLength="16.1" lengthAdjust="spacingAndGlyphs" fill="#1a1a1a" stroke="#1a1a1a" stroke-width="0.2">66%</text>
<line x1="482.3" y1="123" x2="482.3" y2="126.2" stroke="#000" stroke-width="1.2"/>
<text x="482.3" y="136" font-size="8.4" text-anchor="middle" textLength="13.8" lengthAdjust="spacingAndGlyphs" fill="#1a1a1a" stroke="#1a1a1a" stroke-width="0.2">TES</text>
<line x1="503.9" y1="123" x2="503.9" y2="126.2" stroke="#000" stroke-width="1.2"/>
<text x="503.9" y="136" font-size="8.4" text-anchor="middle" textLength="17.7" lengthAdjust="spacingAndGlyphs" fill="#1a1a1a" stroke="#1a1a1a" stroke-width="0.2">2000</text>
<text x="411.5" y="149.1" font-size="9.9" textLength="45.3" lengthAdjust="spacingAndGlyphs" fill="#1a1a1a" stroke="#111" stroke-width="0.32">Genomic region</text>
<text x="459.7" y="149.1" font-size="9.9" textLength="27.9" lengthAdjust="spacingAndGlyphs" fill="#1a1a1a" stroke="#111" stroke-width="0.32">[5'--&gt; 3']</text>
<g transform="translate(362.4,78.2) rotate(-90)">
<text x="0" y="0" font-size="10.2" text-anchor="middle" textLength="13.5" lengthAdjust="spacingAndGlyphs" fill="#1a1a1a" stroke="#111" stroke-width="0.32">Log2</text>
</g>
<g transform="translate(372.4,78.3) rotate(-90)">
<text x="0" y="0" font-size="9.0" text-anchor="middle" textLength="65" lengthAdjust="spacingAndGlyphs" fill="#1a1a1a" stroke="#111" stroke-width="0.32">(fold change vs. input)</text>
</g>
<text x="450.2" y="28.1" font-size="9.8" text-anchor="middle" textLength="29.4" lengthAdjust="spacingAndGlyphs" fill="#1a1a1a" stroke="#1a1a1a" stroke-width="0.2">DOT1L</text>
<text x="7" y="16.3" font-size="11.6" font-weight="bold" fill="#000" stroke="#000" stroke-width="0.25">A</text>
<text x="181" y="16.6" font-size="11.6" font-weight="bold" fill="#000" stroke="#000" stroke-width="0.25">B</text>
<text x="354.2" y="16.6" font-size="11.6" font-weight="bold" fill="#000" stroke="#000" stroke-width="0.25">C</text>
<rect x="99" y="158" width="17" height="8" fill="#8d9dc6"/>
<polyline points="99.6,164.1 103.7,163 107.1,161 109.4,162.2 111.7,161.2 113.5,163 115.8,161" fill="none" stroke="#2a4a8a" stroke-width="1.1" stroke-linejoin="round"/>
<text x="119.2" y="165.1" font-size="8.8" textLength="127" lengthAdjust="spacingAndGlyphs" fill="#1a1a1a" stroke="#1a1a1a" stroke-width="0.2">H3K79me2 on KMT2A-r target genes</text>
<rect x="258.7" y="158" width="17" height="8" fill="#dc9a90"/>
<polyline points="259.2,162.4 262.7,163 266.2,161.2 269,160.7 272.5,162.2 275.2,161.2" fill="none" stroke="#c20f36" stroke-width="1.1" stroke-linejoin="round"/>
<text x="279" y="165.1" font-size="8.8" textLength="141.6" lengthAdjust="spacingAndGlyphs" fill="#1a1a1a" stroke="#1a1a1a" stroke-width="0.2">H3K79me2 on non-KMT2A-r target genes</text>
<line x1="69.4" y1="206" x2="69.4" y2="269" stroke="#f5f5f5" stroke-width="0.8"/>
<line x1="90.5" y1="206" x2="90.5" y2="269" stroke="#f5f5f5" stroke-width="0.8"/>
<line x1="111.6" y1="206" x2="111.6" y2="269" stroke="#f5f5f5" stroke-width="0.8"/>
<line x1="132.7" y1="206" x2="132.7" y2="269" stroke="#f5f5f5" stroke-width="0.8"/>
<line x1="153.8" y1="206" x2="153.8" y2="269" stroke="#f5f5f5" stroke-width="0.8"/>
<line x1="174.9" y1="206" x2="174.9" y2="269" stroke="#f5f5f5" stroke-width="0.8"/>
<line x1="48.3" y1="219.6" x2="193.9" y2="219.6" stroke="#f5f5f5" stroke-width="0.8"/>
<line x1="48.3" y1="229.6" x2="193.9" y2="229.6" stroke="#f5f5f5" stroke-width="0.8"/>
<line x1="48.3" y1="239.4" x2="193.9" y2="239.4" stroke="#f5f5f5" stroke-width="0.8"/>
<line x1="48.3" y1="249.4" x2="193.9" y2="249.4" stroke="#f5f5f5" stroke-width="0.8"/>
<line x1="48.3" y1="259.4" x2="193.9" y2="259.4" stroke="#f5f5f5" stroke-width="0.8"/>
<line x1="48.3" y1="210" x2="193.9" y2="210" stroke="#dcdcdc" stroke-width="1.2"/>
<line x1="48.3" y1="269" x2="193.9" y2="269" stroke="#dddddd" stroke-width="1"/>
<rect x="49.9" y="269.6" width="2.4" height="21.2" fill="#c8c8c8"/>
<rect x="57.1" y="269.6" width="2.4" height="21.2" fill="#aaaaaa"/>
<rect x="59.5" y="269.6" width="3.9" height="21.2" fill="#bbbbbb"/>
<rect x="63.9" y="269.6" width="1.9" height="21.2" fill="#323232"/>
<rect x="67.2" y="269.6" width="4.4" height="21.2" fill="#c0c0c0"/>
<rect x="72" y="269.6" width="2" height="21.2" fill="#555555"/>
<rect x="75.9" y="269.6" width="0.9" height="21.2" fill="#444444"/>
<rect x="79.3" y="269.6" width="1.4" height="21.2" fill="#cccccc"/>
<rect x="87.4" y="269.6" width="1.5" height="21.2" fill="#aaaaaa"/>
<rect x="98.8" y="269.6" width="1" height="21.2" fill="#323232"/>
<rect x="100.3" y="269.6" width="1.9" height="21.2" fill="#cccccc"/>
<rect x="103.2" y="269.6" width="0.6" height="21.2" fill="#444444"/>
<rect x="110.9" y="269.6" width="0.9" height="21.2" fill="#555555"/>
<rect x="111.8" y="269.6" width="1.95" height="21.2" fill="#dddddd"/>
<rect x="113.75" y="269.6" width="1.95" height="21.2" fill="#999999"/>
<rect x="115.7" y="269.6" width="1.9" height="21.2" fill="#888888"/>
<rect x="118" y="269.6" width="0.8" height="21.2" fill="#323232"/>
<rect x="121" y="269.6" width="2.8" height="21.2" fill="#dddddd"/>
<rect x="123.8" y="269.6" width="2" height="21.2" fill="#646464"/>
<rect x="128.7" y="269.6" width="3.3" height="21.2" fill="#bbbbbb"/>
<rect x="133" y="269.6" width="1" height="21.2" fill="#444444"/>
<rect x="136.3" y="269.6" width="1" height="21.2" fill="#555555"/>
<rect x="138.75" y="269.6" width="0.95" height="21.2" fill="#323232"/>
<rect x="140.2" y="269.6" width="2.4" height="21.2" fill="#999999"/>
<rect x="143" y="269.6" width="1.2" height="21.2" fill="#6e6e6e"/>
<rect x="144.2" y="269.6" width="0.8" height="21.2" fill="#888888"/>
<rect x="146.5" y="269.6" width="1" height="21.2" fill="#555555"/>
<rect x="152.8" y="269.6" width="1.2" height="21.2" fill="#323232"/>
<rect x="159" y="269.6" width="1.5" height="21.2" fill="#555555"/>
<rect x="162.5" y="269.6" width="1.5" height="21.2" fill="#646464"/>
<rect x="167" y="269.6" width="1" height="21.2" fill="#444444"/>
<rect x="169.5" y="269.6" width="1.5" height="21.2" fill="#555555"/>
<rect x="173" y="269.6" width="4" height="21.2" fill="#aaaaaa"/>
<rect x="177" y="269.6" width="1" height="21.2" fill="#555555"/>
<rect x="178.5" y="269.6" width="3" height="21.2" fill="#bbbbbb"/>
<rect x="182" y="269.6" width="2" height="21.2" fill="#0a0a0a"/>
<rect x="184" y="269.6" width="1" height="21.2" fill="#323232"/>
<rect x="185" y="269.6" width="1.8" height="21.2" fill="#0a0a0a"/>
<rect x="48.3" y="290.8" width="22.81" height="5.4" fill="#d44450"/>
<rect x="70.81" y="290.8" width="12.56" height="5.4" fill="#d86a7c"/>
<rect x="83.06" y="290.8" width="14.15" height="5.4" fill="#dd8290"/>
<rect x="96.91" y="290.8" width="18.79" height="5.4" fill="#e4b0d6"/>
<rect x="115.4" y="290.8" width="18.65" height="5.4" fill="#d2d2f2"/>
<rect x="133.75" y="290.8" width="14.29" height="5.4" fill="#bab8ea"/>
<rect x="147.74" y="290.8" width="12.49" height="5.4" fill="#8a84cc"/>
<rect x="159.93" y="290.8" width="23.29" height="5.4" fill="#4a3ca2"/>
<rect x="182.92" y="290.8" width="4.18" height="5.4" fill="#2e2080"/>
<polyline points="48.6,209.9 49.35,209.97 50.23,209.12 51.12,209.7 52,208.61 52.93,210.57 53.87,210.84 54.8,212.91 55.7,212.99 56.6,214.63 57.5,214.86 58.4,215.84 59.3,215.61 60.2,216.52 61.1,216.09 62,217.13 62.9,216.96 63.8,216.28 64.7,213.94 65.6,213.39 66.9,214.84 67.8,215.72 68.7,215.39 69.6,216.08 70.5,215.69 71.4,216.58 72.3,216.25 73.7,214.04 75,214.76 76,215.12 77,214.12 77.85,215.66 78.7,215.86 79.55,217.47 80.4,217.48 81.27,219.07 82.14,219.58 83.01,221.37 83.89,221.62 84.76,223.43 85.63,223.73 86.5,225.64 87.5,223.74 88.5,226.99 89.4,227.5 90.3,229.77 91.2,230.4 92.15,232.32 93.1,232.7 94.05,234.76 95,235.33 95.84,237.08 96.68,237.63 97.52,239.31 98.36,239.66 99.2,241.54 100.7,237.96 101.75,238.93 102.8,238.69 103.8,238.88 104.6,239.31 105.4,241.27 106.27,241.77 107.13,243.68 108,244.04 108.87,246.05 109.73,246.34 110.6,248.26 111.63,248.31 112.67,249.25 113.7,249.26 114.75,249.21 115.8,247.43 116.83,248.37 117.87,247.62 118.9,248.3 119.93,249.1 120.97,251.32 122,251.78 122.87,252.67 123.73,252.04 124.6,253.05 125.7,248.84 126.73,250.82 127.77,251.6 128.8,253.61 129.7,253.4 130.6,254.65 131.5,254.61 132.4,255.8 134,253 134.94,254.58 135.88,255.12 136.82,256.6 137.76,257.06 138.7,258.93 140,256.77 140.9,258.08 141.8,257.95 142.7,259.27 143.7,258.94 144.7,260.05 145.6,258.53 146.5,258.25 147.4,256.51 148.25,258.62 149.1,258.97 149.95,261.04 150.8,261.32 151.7,261.5 152.6,259.9 153.5,260.01 154.4,260.54 155.3,262.24 156.2,262.58 157.1,264.62 158,264.85 158.9,266.83 159.95,264.41 161,263.37 161.82,261.99 162.65,261.83 163.48,260.34 164.3,260.17 165.2,260.31 166.1,262.43 167,262.85 168.5,260.68 169.37,259.5 170.23,259.99 171.1,258.62 172,259.54 172.9,258.83 173.8,259.72 174.7,258.26 175.6,257.82 176.5,256.01 177.4,255.01 178.3,252.68 179.2,251.86 180.2,251.33 181.2,251.87 182.2,248.06 183.2,245.78 183.9,231.73 184.95,226.99 186,220.71 186.8,210.2" fill="none" stroke="#68a92a" stroke-width="1.45" stroke-linejoin="round"/>
<rect x="48.3" y="206" width="145.6" height="90.2" fill="none" stroke="#000" stroke-width="1.3"/>
<line x1="44.9" y1="210" x2="48.3" y2="210" stroke="#000" stroke-width="1.2"/>
<text x="41.8" y="212.8" font-size="8.0" text-anchor="end" textLength="10.9" lengthAdjust="spacingAndGlyphs" fill="#1a1a1a" stroke="#1a1a1a" stroke-width="0.2">0.0</text>
<line x1="44.9" y1="219.6" x2="48.3" y2="219.6" stroke="#000" stroke-width="1.2"/>
<line x1="44.9" y1="229.6" x2="48.3" y2="229.6" stroke="#000" stroke-width="1.2"/>
<text x="41.8" y="232.4" font-size="8.0" text-anchor="end" textLength="12.2" lengthAdjust="spacingAndGlyphs" fill="#1a1a1a" stroke="#1a1a1a" stroke-width="0.2">-0.1</text>
<line x1="44.9" y1="239.4" x2="48.3" y2="239.4" stroke="#000" stroke-width="1.2"/>
<line x1="44.9" y1="249.4" x2="48.3" y2="249.4" stroke="#000" stroke-width="1.2"/>
<text x="41.8" y="252.2" font-size="8.0" text-anchor="end" textLength="12.2" lengthAdjust="spacingAndGlyphs" fill="#1a1a1a" stroke="#1a1a1a" stroke-width="0.2">-0.2</text>
<line x1="44.9" y1="259.4" x2="48.3" y2="259.4" stroke="#000" stroke-width="1.2"/>
<line x1="44.9" y1="269" x2="48.3" y2="269" stroke="#000" stroke-width="1.2"/>
<text x="41.8" y="271.8" font-size="8.0" text-anchor="end" textLength="12.2" lengthAdjust="spacingAndGlyphs" fill="#1a1a1a" stroke="#1a1a1a" stroke-width="0.2">-0.3</text>
<g transform="translate(24.2,251.1) rotate(-90)">
<text x="0" y="0" font-size="9.2" text-anchor="middle" textLength="50" lengthAdjust="spacingAndGlyphs" fill="#1a1a1a" stroke="#111" stroke-width="0.32">Enrichment score</text>
</g>
<text x="121.1" y="200.6" font-size="8.0" text-anchor="middle" textLength="97.6" lengthAdjust="spacingAndGlyphs" fill="#1a1a1a" stroke="#1a1a1a" stroke-width="0.2">Bernt KMT2A-MLLT3 Targets</text>
<text x="51.9" y="258" font-size="8.0" textLength="36.2" lengthAdjust="spacingAndGlyphs" fill="#1a1a1a" stroke="#1a1a1a" stroke-width="0.2">NES = -3.8</text>
<text x="51.9" y="266.9" font-size="8.0" fill="#1a1a1a" stroke="#1a1a1a" stroke-width="0.2" textLength="35" lengthAdjust="spacingAndGlyphs"><tspan font-style="italic">P</tspan> &lt; 0.0001</text>
<text x="48.6" y="305.3" font-size="7.9" textLength="66.2" lengthAdjust="spacingAndGlyphs" fill="#1a1a1a" stroke="#1a1a1a" stroke-width="0.2">Postively Correlated</text>
<text x="193.4" y="305.3" font-size="7.9" text-anchor="end" textLength="72" lengthAdjust="spacingAndGlyphs" fill="#1a1a1a" stroke="#1a1a1a" stroke-width="0.2">Negatively Correlated</text>
<text x="48.6" y="317.5" font-size="7.9" textLength="54.7" lengthAdjust="spacingAndGlyphs" fill="#1a1a1a" stroke="#1a1a1a" stroke-width="0.2">Non-Transduced</text>
<text x="193.4" y="317.5" font-size="7.9" text-anchor="end" textLength="10.9" lengthAdjust="spacingAndGlyphs" fill="#1a1a1a" stroke="#1a1a1a" stroke-width="0.2">DN</text>
<text x="7.3" y="191" font-size="11.4" font-weight="bold" fill="#000" stroke="#000" stroke-width="0.25">D</text>
<line x1="273.75" y1="206" x2="273.75" y2="269" stroke="#f5f5f5" stroke-width="0.8"/>
<line x1="297.6" y1="206" x2="297.6" y2="269" stroke="#f5f5f5" stroke-width="0.8"/>
<line x1="322.9" y1="206" x2="322.9" y2="269" stroke="#f5f5f5" stroke-width="0.8"/>
<line x1="346.9" y1="206" x2="346.9" y2="269" stroke="#f5f5f5" stroke-width="0.8"/>
<line x1="370.6" y1="206" x2="370.6" y2="269" stroke="#f5f5f5" stroke-width="0.8"/>
<line x1="249.3" y1="223.1" x2="394.4" y2="223.1" stroke="#f5f5f5" stroke-width="0.8"/>
<line x1="249.3" y1="234" x2="394.4" y2="234" stroke="#f5f5f5" stroke-width="0.8"/>
<line x1="249.3" y1="245" x2="394.4" y2="245" stroke="#f5f5f5" stroke-width="0.8"/>
<line x1="249.3" y1="255.9" x2="394.4" y2="255.9" stroke="#f5f5f5" stroke-width="0.8"/>
<line x1="249.3" y1="266.8" x2="394.4" y2="266.8" stroke="#f5f5f5" stroke-width="0.8"/>
<line x1="249.3" y1="212.4" x2="394.4" y2="212.4" stroke="#dcdcdc" stroke-width="1.2"/>
<line x1="249.3" y1="269" x2="394.4" y2="269" stroke="#dddddd" stroke-width="1"/>
<rect x="254.3" y="269.6" width="0.7" height="21.2" fill="#888888"/>
<rect x="259.1" y="269.6" width="0.7" height="21.2" fill="#787878"/>
<rect x="261" y="269.6" width="1" height="21.2" fill="#aaaaaa"/>
<rect x="262.5" y="269.6" width="1.5" height="21.2" fill="#888888"/>
<rect x="265.8" y="269.6" width="1" height="21.2" fill="#999999"/>
<rect x="267.3" y="269.6" width="1.4" height="21.2" fill="#555555"/>
<rect x="268.7" y="269.6" width="1.5" height="21.2" fill="#444444"/>
<rect x="272" y="269.6" width="1" height="21.2" fill="#999999"/>
<rect x="275" y="269.6" width="1" height="21.2" fill="#787878"/>
<rect x="278.8" y="269.6" width="1.2" height="21.2" fill="#888888"/>
<rect x="284" y="269.6" width="2.5" height="21.2" fill="#aaaaaa"/>
<rect x="290.3" y="269.6" width="1.5" height="21.2" fill="#888888"/>
<rect x="291.8" y="269.6" width="1.4" height="21.2" fill="#555555"/>
<rect x="293.2" y="269.6" width="1.5" height="21.2" fill="#323232"/>
<rect x="297" y="269.6" width="1" height="21.2" fill="#646464"/>
<rect x="299.8" y="269.6" width="1.5" height="21.2" fill="#bbbbbb"/>
<rect x="304.7" y="269.6" width="1.1" height="21.2" fill="#555555"/>
<rect x="309" y="269.6" width="2.4" height="21.2" fill="#aaaaaa"/>
<rect x="311.9" y="269.6" width="1.2" height="21.2" fill="#222222"/>
<rect x="315.7" y="269.6" width="1" height="21.2" fill="#444444"/>
<rect x="322" y="269.6" width="1.1" height="21.2" fill="#555555"/>
<rect x="324.8" y="269.6" width="2" height="21.2" fill="#cccccc"/>
<rect x="326.8" y="269.6" width="3.8" height="21.2" fill="#bbbbbb"/>
<rect x="333.5" y="269.6" width="1.5" height="21.2" fill="#555555"/>
<rect x="335.9" y="269.6" width="1" height="21.2" fill="#444444"/>
<rect x="338.3" y="269.6" width="2.9" height="21.2" fill="#888888"/>
<rect x="341.2" y="269.6" width="1.9" height="21.2" fill="#646464"/>
<rect x="346.5" y="269.6" width="3" height="21.2" fill="#bbbbbb"/>
<rect x="350" y="269.6" width="0.8" height="21.2" fill="#888888"/>
<rect x="353" y="269.6" width="1" height="21.2" fill="#323232"/>
<rect x="355" y="269.6" width="1.5" height="21.2" fill="#555555"/>
<rect x="360" y="269.6" width="1.5" height="21.2" fill="#999999"/>
<rect x="364.5" y="269.6" width="2" height="21.2" fill="#111111"/>
<rect x="366.5" y="269.6" width="2" height="21.2" fill="#787878"/>
<rect x="369.2" y="269.6" width="1" height="21.2" fill="#222222"/>
<rect x="374" y="269.6" width="1" height="21.2" fill="#999999"/>
<rect x="377" y="269.6" width="2" height="21.2" fill="#555555"/>
<rect x="379" y="269.6" width="6" height="21.2" fill="#888888"/>
<rect x="386" y="269.6" width="1.6" height="21.2" fill="#0a0a0a"/>
<rect x="249.3" y="290.8" width="22.36" height="5.4" fill="#d44450"/>
<rect x="271.36" y="290.8" width="12.02" height="5.4" fill="#d86a7c"/>
<rect x="283.09" y="290.8" width="13.12" height="5.4" fill="#dd8290"/>
<rect x="295.91" y="290.8" width="18.78" height="5.4" fill="#e4b0d6"/>
<rect x="314.39" y="290.8" width="19.74" height="5.4" fill="#d2d2f2"/>
<rect x="333.83" y="290.8" width="12.3" height="5.4" fill="#bab8ea"/>
<rect x="345.83" y="290.8" width="12.71" height="5.4" fill="#8a84cc"/>
<rect x="358.24" y="290.8" width="25.12" height="5.4" fill="#4a3ca2"/>
<rect x="383.06" y="290.8" width="4.44" height="5.4" fill="#2e2080"/>
<polyline points="249.7,208.5 250.64,210.12 251.58,210.86 252.52,212.72 253.46,213.37 254.4,215.62 255.34,215.81 256.28,217.97 257.22,218.3 258.16,220.49 259.1,220.81 259.95,222.02 260.8,222.01 261.65,223.07 262.5,222.98 263.4,223.97 264.3,223.95 265.2,225.09 266.1,225.03 267,226.48 267.9,226.38 268.8,225.75 269.7,224.09 270.6,223.64 271.6,223.03 272.6,224.16 274,224.59 275.4,225.09 276.4,226.47 277.4,229.78 278.4,228.47 279.4,228.37 280.27,228.35 281.14,230.25 282.01,230.14 282.89,231.99 283.76,232.04 284.63,233.69 285.5,233.61 286.3,235.48 287.1,235.98 287.9,237.71 288.7,238.11 289.5,239.93 290.3,238.89 291.1,239.12 291.9,238.22 292.7,238.47 293.5,237.24 294.3,237.79 295.12,238.06 295.95,239.54 296.78,239.77 297.6,241.2 299.2,241.91 300.7,241.56 301.62,242 302.55,243.87 303.47,244.51 304.4,246.33 305.9,244.62 306.82,246.63 307.75,247.03 308.68,249.08 309.6,249.9 310.6,250.46 311.6,249.86 313.2,247.34 314.25,249.06 315.3,252.09 316.8,250.21 317.67,251.93 318.53,252.28 319.4,253.95 320.27,254.3 321.13,255.69 322,256.03 323.03,257.45 324.07,257.49 325.1,258.71 326.15,259.04 327.2,260.2 328,257.65 328.8,256.31 330.3,256.5 331.37,258.72 332.43,259.81 333.5,262.04 334.5,259.62 335.5,258.24 336.3,256.19 337.1,255.29 338.7,256.38 339.57,256.67 340.43,255.43 341.3,255.71 342.8,253.06 344,255.95 344.85,256.45 345.7,258 346.55,258.32 347.4,259.91 348.45,258.83 349.5,258.62 350.3,258.9 351.1,260.24 351.9,259.95 352.7,261.35 353.5,261.59 354.4,261.23 355.3,259.47 356.2,259.5 357.02,259.5 357.84,261.28 358.66,261.53 359.48,263.19 360.3,263.45 361.12,264.99 361.95,264.83 362.78,266.14 363.6,266.01 364.45,264.27 365.3,260.7 366.15,258.88 367,255.41 367.85,253.8 368.7,251.11 369.55,249.59 370.4,246.72 371.25,248.09 372.1,248.31 372.95,249.8 373.8,250.07 374.7,251.15 375.6,250.78 376.5,252.09 377.4,249 378.3,247.64 379.2,244.46 380,244.81 380.8,243.7 381.6,244 382.4,242.96 383.2,243.09 384.13,239.76 385.07,237.88 386,234.44 387.3,225.68 387.8,212.6" fill="none" stroke="#68a92a" stroke-width="1.45" stroke-linejoin="round"/>
<rect x="249.3" y="206" width="145.1" height="90.2" fill="none" stroke="#000" stroke-width="1.3"/>
<line x1="245.9" y1="212.9" x2="249.3" y2="212.9" stroke="#000" stroke-width="1.2"/>
<text x="242.8" y="215.7" font-size="8.0" text-anchor="end" textLength="10.9" lengthAdjust="spacingAndGlyphs" fill="#1a1a1a" stroke="#1a1a1a" stroke-width="0.2">0.0</text>
<line x1="245.9" y1="223.4" x2="249.3" y2="223.4" stroke="#000" stroke-width="1.2"/>
<line x1="245.9" y1="234" x2="249.3" y2="234" stroke="#000" stroke-width="1.2"/>
<text x="242.8" y="236.8" font-size="8.0" text-anchor="end" textLength="12.2" lengthAdjust="spacingAndGlyphs" fill="#1a1a1a" stroke="#1a1a1a" stroke-width="0.2">-0.1</text>
<line x1="245.9" y1="244.6" x2="249.3" y2="244.6" stroke="#000" stroke-width="1.2"/>
<line x1="245.9" y1="255.4" x2="249.3" y2="255.4" stroke="#000" stroke-width="1.2"/>
<text x="242.8" y="258.2" font-size="8.0" text-anchor="end" textLength="12.2" lengthAdjust="spacingAndGlyphs" fill="#1a1a1a" stroke="#1a1a1a" stroke-width="0.2">-0.2</text>
<line x1="245.9" y1="266" x2="249.3" y2="266" stroke="#000" stroke-width="1.2"/>
<g transform="translate(225.2,251.1) rotate(-90)">
<text x="0" y="0" font-size="9.2" text-anchor="middle" textLength="50" lengthAdjust="spacingAndGlyphs" fill="#1a1a1a" stroke="#111" stroke-width="0.32">Enrichment score</text>
</g>
<text x="321.85" y="200.6" font-size="8.0" text-anchor="middle" textLength="97.6" lengthAdjust="spacingAndGlyphs" fill="#1a1a1a" stroke="#1a1a1a" stroke-width="0.2">Bernt KMT2A-MLLT3 Targets</text>
<text x="255" y="254.75" font-size="8.0" textLength="36.2" lengthAdjust="spacingAndGlyphs" fill="#1a1a1a" stroke="#1a1a1a" stroke-width="0.2">NES = -3.2</text>
<text x="255" y="263.65" font-size="8.0" fill="#1a1a1a" stroke="#1a1a1a" stroke-width="0.2" textLength="35" lengthAdjust="spacingAndGlyphs"><tspan font-style="italic">P</tspan> &lt; 0.0001</text>
<text x="249.6" y="305.3" font-size="7.9" textLength="66.2" lengthAdjust="spacingAndGlyphs" fill="#1a1a1a" stroke="#1a1a1a" stroke-width="0.2">Postively Correlated</text>
<text x="393.9" y="305.3" font-size="7.9" text-anchor="end" textLength="72" lengthAdjust="spacingAndGlyphs" fill="#1a1a1a" stroke="#1a1a1a" stroke-width="0.2">Negatively Correlated</text>
<text x="249.6" y="317.5" font-size="7.9" textLength="54.7" lengthAdjust="spacingAndGlyphs" fill="#1a1a1a" stroke="#1a1a1a" stroke-width="0.2">Non-Transduced</text>
<text x="393.9" y="317.5" font-size="7.9" text-anchor="end" textLength="24.5" lengthAdjust="spacingAndGlyphs" fill="#1a1a1a" stroke="#1a1a1a" stroke-width="0.2">DOT1L</text>
<text x="208.8" y="191" font-size="11.4" font-weight="bold" fill="#000" stroke="#000" stroke-width="0.25">E</text>
<line x1="105.7" y1="359.6" x2="105.7" y2="423.4" stroke="#f5f5f5" stroke-width="0.8"/>
<line x1="125.4" y1="359.6" x2="125.4" y2="423.4" stroke="#f5f5f5" stroke-width="0.8"/>
<line x1="145.1" y1="359.6" x2="145.1" y2="423.4" stroke="#f5f5f5" stroke-width="0.8"/>
<line x1="164.4" y1="359.6" x2="164.4" y2="423.4" stroke="#f5f5f5" stroke-width="0.8"/>
<line x1="47.5" y1="372.3" x2="192.5" y2="372.3" stroke="#f5f5f5" stroke-width="0.8"/>
<line x1="47.5" y1="382.25" x2="192.5" y2="382.25" stroke="#f5f5f5" stroke-width="0.8"/>
<line x1="47.5" y1="392.1" x2="192.5" y2="392.1" stroke="#f5f5f5" stroke-width="0.8"/>
<line x1="47.5" y1="402.25" x2="192.5" y2="402.25" stroke="#f5f5f5" stroke-width="0.8"/>
<line x1="47.5" y1="412.5" x2="192.5" y2="412.5" stroke="#f5f5f5" stroke-width="0.8"/>
<line x1="47.5" y1="362.5" x2="192.5" y2="362.5" stroke="#dcdcdc" stroke-width="1.2"/>
<line x1="47.5" y1="423.4" x2="192.5" y2="423.4" stroke="#dddddd" stroke-width="1"/>
<rect x="57.1" y="424" width="0.7" height="21" fill="#888888"/>
<rect x="76.3" y="424" width="1.5" height="21" fill="#bbbbbb"/>
<rect x="83.5" y="424" width="1.2" height="21" fill="#999999"/>
<rect x="92.2" y="424" width="0.8" height="21" fill="#888888"/>
<rect x="99.8" y="424" width="0.9" height="21" fill="#888888"/>
<rect x="107" y="424" width="1.2" height="21" fill="#888888"/>
<rect x="120.9" y="424" width="1.1" height="21" fill="#888888"/>
<rect x="129.1" y="424" width="1" height="21" fill="#888888"/>
<rect x="135.3" y="424" width="1.5" height="21" fill="#888888"/>
<rect x="143" y="424" width="1" height="21" fill="#888888"/>
<rect x="149" y="424" width="1" height="21" fill="#444444"/>
<rect x="151" y="424" width="1" height="21" fill="#cccccc"/>
<rect x="152" y="424" width="2" height="21" fill="#999999"/>
<rect x="155" y="424" width="1" height="21" fill="#646464"/>
<rect x="157.5" y="424" width="1" height="21" fill="#bbbbbb"/>
<rect x="159.5" y="424" width="1.5" height="21" fill="#888888"/>
<rect x="165" y="424" width="1" height="21" fill="#444444"/>
<rect x="167" y="424" width="1" height="21" fill="#cccccc"/>
<rect x="169" y="424" width="1" height="21" fill="#646464"/>
<rect x="172.5" y="424" width="2" height="21" fill="#646464"/>
<rect x="174.5" y="424" width="2" height="21" fill="#888888"/>
<rect x="176.5" y="424" width="1" height="21" fill="#555555"/>
<rect x="178" y="424" width="1.5" height="21" fill="#888888"/>
<rect x="180" y="424" width="1" height="21" fill="#d2d2d2"/>
<rect x="183" y="424" width="2.5" height="21" fill="#0a0a0a"/>
<rect x="47.5" y="445" width="22.36" height="5.4" fill="#d44450"/>
<rect x="69.56" y="445" width="12.02" height="5.4" fill="#d86a7c"/>
<rect x="81.29" y="445" width="13.12" height="5.4" fill="#dd8290"/>
<rect x="94.11" y="445" width="18.78" height="5.4" fill="#e4b0d6"/>
<rect x="112.59" y="445" width="19.74" height="5.4" fill="#d2d2f2"/>
<rect x="132.03" y="445" width="12.3" height="5.4" fill="#bab8ea"/>
<rect x="144.03" y="445" width="12.71" height="5.4" fill="#8a84cc"/>
<rect x="156.44" y="445" width="25.12" height="5.4" fill="#4a3ca2"/>
<rect x="181.26" y="445" width="4.44" height="5.4" fill="#2e2080"/>
<polyline points="47.7,362.7 48.55,363.33 49.41,363.65 50.26,364.4 51.12,364.72 51.97,365.39 52.83,365.74 53.68,366.47 54.54,366.81 55.39,367.51 56.25,367.9 57.1,368.63 58,368.06 58.81,368.87 59.63,369.24 60.44,370.02 61.25,370.31 62.07,371.18 62.88,371.49 63.69,372.24 64.5,372.58 65.32,373.4 66.13,373.79 66.94,374.52 67.76,374.88 68.57,375.61 69.38,376 70.2,376.75 71.01,377.13 71.82,377.91 72.63,378.3 73.45,379.05 74.26,379.36 75.07,380.17 75.89,380.52 76.7,381.35 77.5,380.88 78.36,381.66 79.21,382.03 80.07,382.81 80.93,383.19 81.79,383.98 82.64,384.38 83.5,385.11 84.36,385.37 85.23,385.96 86.09,386.17 86.95,386.87 87.82,387.05 88.68,387.75 89.55,387.97 90.41,388.62 91.27,388.88 92.14,389.44 93,389.71 93.84,390.36 94.67,390.6 95.51,391.3 96.35,391.65 97.19,392.3 98.03,392.56 98.86,393.19 99.7,393.54 100.4,393.64 101.3,393.9 102.2,394.66 103.1,395.01 104,395.72 104.9,396.07 105.8,396.81 106.7,397.2 107.6,397.91 108.42,398.22 109.25,398.9 110.07,399.16 110.89,399.84 111.72,400.07 112.54,400.78 113.36,401.08 114.19,401.75 115.01,402.02 115.84,402.71 116.66,403 117.48,403.64 118.31,404.02 119.13,404.61 119.95,404.9 120.78,405.61 121.6,405.94 122.41,406.55 123.22,406.75 124.03,407.4 124.84,407.65 125.65,408.24 126.46,408.47 127.27,409.12 128.08,409.29 128.89,409.94 129.7,410.22 130.55,410.83 131.4,411.02 132.25,411.69 133.1,411.95 133.95,412.51 134.8,412.78 135.65,413.36 136.5,413.65 137.38,414.25 138.25,414.48 139.12,415.07 140,415.28 140.9,415.98 141.8,416.24 142.7,416.87 143.55,416.83 144.4,417.27 145.25,417.23 146.1,417.59 147,418.29 147.9,419.44 148.8,420.13 149.8,419.27 150.8,417.98 151.62,417.93 152.44,417.45 153.26,417.45 154.08,417 154.9,416.91 155.8,417.09 156.7,417.72 157.6,417.96 158.5,418.03 159.4,417.55 160.3,417.57 161.3,417.71 162.3,418.21 163.2,418.67 164.1,419.6 165,420.08 166,418.91 167,417.37 168.05,417.92 169.1,418.02 170.4,414.89 171.4,414.97 172.4,415.51 173.45,412.96 174.5,410.82 175.5,408.57 176.5,406.65 177.5,405.5 178.5,404.73 179.9,397.09 180.8,397.74 181.7,397.99 182.6,398.62 183.9,391.71 185.3,375.72 186,362.3" fill="none" stroke="#68a92a" stroke-width="1.3" stroke-linejoin="round"/>
<rect x="47.5" y="359.6" width="145" height="90.8" fill="none" stroke="#000" stroke-width="1.3"/>
<line x1="44.1" y1="362.5" x2="47.5" y2="362.5" stroke="#000" stroke-width="1.2"/>
<text x="41" y="365.3" font-size="8.0" text-anchor="end" textLength="10.9" lengthAdjust="spacingAndGlyphs" fill="#1a1a1a" stroke="#1a1a1a" stroke-width="0.2">0.0</text>
<line x1="44.1" y1="372.3" x2="47.5" y2="372.3" stroke="#000" stroke-width="1.2"/>
<line x1="44.1" y1="382.25" x2="47.5" y2="382.25" stroke="#000" stroke-width="1.2"/>
<text x="41" y="385.05" font-size="8.0" text-anchor="end" textLength="12.2" lengthAdjust="spacingAndGlyphs" fill="#1a1a1a" stroke="#1a1a1a" stroke-width="0.2">-0.2</text>
<line x1="44.1" y1="392.1" x2="47.5" y2="392.1" stroke="#000" stroke-width="1.2"/>
<line x1="44.1" y1="402.25" x2="47.5" y2="402.25" stroke="#000" stroke-width="1.2"/>
<text x="41" y="405.05" font-size="8.0" text-anchor="end" textLength="12.2" lengthAdjust="spacingAndGlyphs" fill="#1a1a1a" stroke="#1a1a1a" stroke-width="0.2">-0.4</text>
<line x1="44.1" y1="412.5" x2="47.5" y2="412.5" stroke="#000" stroke-width="1.2"/>
<line x1="44.1" y1="422.25" x2="47.5" y2="422.25" stroke="#000" stroke-width="1.2"/>
<text x="41" y="425.05" font-size="8.0" text-anchor="end" textLength="12.2" lengthAdjust="spacingAndGlyphs" fill="#1a1a1a" stroke="#1a1a1a" stroke-width="0.2">-0.6</text>
<g transform="translate(23.4,405) rotate(-90)">
<text x="0" y="0" font-size="9.2" text-anchor="middle" textLength="50" lengthAdjust="spacingAndGlyphs" fill="#1a1a1a" stroke="#111" stroke-width="0.32">Enrichment score</text>
</g>
<text x="120" y="354.3" font-size="8.0" text-anchor="middle" textLength="98.3" lengthAdjust="spacingAndGlyphs" fill="#1a1a1a" stroke="#1a1a1a" stroke-width="0.2">Bernt DOT1L Down Program</text>
<text x="50.6" y="412.5" font-size="8.0" textLength="36.2" lengthAdjust="spacingAndGlyphs" fill="#1a1a1a" stroke="#1a1a1a" stroke-width="0.2">NES = -5.4</text>
<text x="50.6" y="421.4" font-size="8.0" fill="#1a1a1a" stroke="#1a1a1a" stroke-width="0.2" textLength="35" lengthAdjust="spacingAndGlyphs"><tspan font-style="italic">P</tspan> &lt; 0.0001</text>
<text x="47.8" y="460" font-size="7.9" textLength="66.2" lengthAdjust="spacingAndGlyphs" fill="#1a1a1a" stroke="#1a1a1a" stroke-width="0.2">Postively Correlated</text>
<text x="192" y="460" font-size="7.9" text-anchor="end" textLength="72" lengthAdjust="spacingAndGlyphs" fill="#1a1a1a" stroke="#1a1a1a" stroke-width="0.2">Negatively Correlated</text>
<text x="47.8" y="472.2" font-size="7.9" textLength="54.7" lengthAdjust="spacingAndGlyphs" fill="#1a1a1a" stroke="#1a1a1a" stroke-width="0.2">Non-Transduced</text>
<text x="192" y="472.2" font-size="7.9" text-anchor="end" textLength="10.9" lengthAdjust="spacingAndGlyphs" fill="#1a1a1a" stroke="#1a1a1a" stroke-width="0.2">DN</text>
<text x="7.3" y="344.25" font-size="11.4" font-weight="bold" fill="#000" stroke="#000" stroke-width="0.25">F</text>
<line x1="274" y1="360.25" x2="274" y2="424.4" stroke="#f5f5f5" stroke-width="0.8"/>
<line x1="297.6" y1="360.25" x2="297.6" y2="424.4" stroke="#f5f5f5" stroke-width="0.8"/>
<line x1="322.8" y1="360.25" x2="322.8" y2="424.4" stroke="#f5f5f5" stroke-width="0.8"/>
<line x1="347.1" y1="360.25" x2="347.1" y2="424.4" stroke="#f5f5f5" stroke-width="0.8"/>
<line x1="370.6" y1="360.25" x2="370.6" y2="424.4" stroke="#f5f5f5" stroke-width="0.8"/>
<line x1="249.5" y1="371.5" x2="394.7" y2="371.5" stroke="#f5f5f5" stroke-width="0.8"/>
<line x1="249.5" y1="379.6" x2="394.7" y2="379.6" stroke="#f5f5f5" stroke-width="0.8"/>
<line x1="249.5" y1="386.25" x2="394.7" y2="386.25" stroke="#f5f5f5" stroke-width="0.8"/>
<line x1="249.5" y1="397.3" x2="394.7" y2="397.3" stroke="#f5f5f5" stroke-width="0.8"/>
<line x1="249.5" y1="408.4" x2="394.7" y2="408.4" stroke="#f5f5f5" stroke-width="0.8"/>
<line x1="249.5" y1="363.5" x2="394.7" y2="363.5" stroke="#dcdcdc" stroke-width="1.2"/>
<line x1="249.5" y1="424.4" x2="394.7" y2="424.4" stroke="#dddddd" stroke-width="1"/>
<rect x="275.4" y="425" width="2.3" height="21" fill="#bbbbbb"/>
<rect x="275.4" y="425" width="0.5" height="21" fill="#888888"/>
<rect x="277.2" y="425" width="0.5" height="21" fill="#888888"/>
<rect x="285.3" y="425" width="1" height="21" fill="#999999"/>
<rect x="297" y="425" width="1" height="21" fill="#999999"/>
<rect x="298" y="425" width="0.9" height="21" fill="#999999"/>
<rect x="319" y="425" width="1.8" height="21" fill="#888888"/>
<rect x="326" y="425" width="1.25" height="21" fill="#646464"/>
<rect x="329.2" y="425" width="0.9" height="21" fill="#888888"/>
<rect x="332" y="425" width="2" height="21" fill="#888888"/>
<rect x="335.9" y="425" width="1" height="21" fill="#888888"/>
<rect x="347" y="425" width="1" height="21" fill="#323232"/>
<rect x="350" y="425" width="1.5" height="21" fill="#cccccc"/>
<rect x="353" y="425" width="2" height="21" fill="#bbbbbb"/>
<rect x="355" y="425" width="2.3" height="21" fill="#cccccc"/>
<rect x="358" y="425" width="1.2" height="21" fill="#555555"/>
<rect x="361.2" y="425" width="2.3" height="21" fill="#bbbbbb"/>
<rect x="367.7" y="425" width="1.5" height="21" fill="#222222"/>
<rect x="369.2" y="425" width="5.8" height="21" fill="#999999"/>
<rect x="375" y="425" width="1.2" height="21" fill="#323232"/>
<rect x="376.2" y="425" width="2.6" height="21" fill="#dddddd"/>
<rect x="380.8" y="425" width="1.1" height="21" fill="#323232"/>
<rect x="383.8" y="425" width="3.8" height="21" fill="#111111"/>
<rect x="249.5" y="446" width="22.4" height="4.8" fill="#d44450"/>
<rect x="271.6" y="446" width="12.04" height="4.8" fill="#d86a7c"/>
<rect x="283.33" y="446" width="13.14" height="4.8" fill="#dd8290"/>
<rect x="296.18" y="446" width="18.81" height="4.8" fill="#e4b0d6"/>
<rect x="314.68" y="446" width="19.77" height="4.8" fill="#d2d2f2"/>
<rect x="334.16" y="446" width="12.31" height="4.8" fill="#bab8ea"/>
<rect x="346.17" y="446" width="12.73" height="4.8" fill="#8a84cc"/>
<rect x="358.6" y="446" width="25.16" height="4.8" fill="#4a3ca2"/>
<rect x="383.46" y="446" width="4.44" height="4.8" fill="#2e2080"/>
<polyline points="249.7,363.4 250.51,364.14 251.31,364.64 252.12,365.51 252.93,365.95 253.73,366.75 254.54,367.2 255.35,368.1 256.15,368.54 256.96,369.37 257.76,369.88 258.57,370.73 259.38,371.14 260.18,372.05 260.99,372.45 261.8,373.33 262.6,373.77 263.41,374.64 264.22,375.11 265.02,375.99 265.83,376.4 266.64,377.24 267.44,377.7 268.25,378.61 269.05,379.04 269.86,379.83 270.67,380.32 271.47,381.22 272.28,381.6 273.09,382.47 273.89,382.92 274.7,383.76 275.6,383.14 276.5,382.82 277.4,382.24 278.22,383.07 279.04,383.58 279.87,384.45 280.69,384.96 281.51,385.76 282.33,386.3 283.16,387.1 283.98,387.62 284.8,388.52 286,387.73 286.83,388.49 287.66,388.99 288.49,389.8 289.31,390.15 290.14,391.02 290.97,391.39 291.8,392.21 292.63,392.67 293.46,393.47 294.29,393.88 295.11,394.73 295.94,395.15 296.77,396 297.6,396.39 299,396.33 299.81,396.73 300.62,397.64 301.42,398.18 302.23,399.05 303.04,399.48 303.85,400.39 304.66,400.83 305.46,401.79 306.27,402.19 307.08,403.08 307.89,403.59 308.7,404.46 309.5,404.96 310.31,405.79 311.12,406.32 311.93,407.17 312.74,407.63 313.54,408.56 314.35,408.98 315.16,409.95 315.97,410.36 316.78,411.21 317.58,411.78 318.39,412.66 319.2,413.12 320.7,411.1 321.58,411.63 322.47,412.45 323.35,412.95 324.23,413.84 325.12,414.35 326,415.19 327.4,412.63 328.8,413.62 330.3,412.59 331.25,413.99 332.2,415.05 333.15,413.96 334.1,412.63 335.5,413.44 337,413.09 337.9,414.07 338.8,414.67 339.7,415.67 340.6,416.18 341.5,417.21 342.4,417.7 343.3,418.75 344.2,419.27 345.07,419.97 345.93,420.2 346.8,420.85 347.8,419.69 348.8,418.86 349.8,419.41 350.8,420.26 351.8,420.11 352.8,420.33 354.2,416.67 355.1,417.18 356,417.21 356.9,417.65 357.8,416.73 358.7,416.2 359.6,415.28 360.5,415.47 361.4,415.3 362.3,415.55 363.15,415.04 364,414.94 365.2,415.66 366.4,416.89 367.3,414.71 368.2,412.88 369.1,410.58 370.1,407.79 371.1,404.49 372.1,403.33 373.1,401.81 374,400.67 374.9,399.18 375.8,398 376.7,398.01 377.6,398.44 378.5,398.39 379.5,398.93 380.5,399.14 381.55,396.96 382.6,394.44 383.9,396.63 384.95,390.03 386,383.8 386.9,373.09 387.8,362.7" fill="none" stroke="#68a92a" stroke-width="1.3" stroke-linejoin="round"/>
<rect x="249.5" y="360.25" width="145.2" height="90.55" fill="none" stroke="#000" stroke-width="1.3"/>
<line x1="246.1" y1="363.5" x2="249.5" y2="363.5" stroke="#000" stroke-width="1.2"/>
<text x="243" y="366.3" font-size="8.0" text-anchor="end" textLength="10.9" lengthAdjust="spacingAndGlyphs" fill="#1a1a1a" stroke="#1a1a1a" stroke-width="0.2">0.0</text>
<line x1="246.1" y1="369.1" x2="249.5" y2="369.1" stroke="#000" stroke-width="1.2"/>
<line x1="246.1" y1="374.6" x2="249.5" y2="374.6" stroke="#000" stroke-width="1.2"/>
<line x1="246.1" y1="380.4" x2="249.5" y2="380.4" stroke="#000" stroke-width="1.2"/>
<line x1="246.1" y1="386" x2="249.5" y2="386" stroke="#000" stroke-width="1.2"/>
<text x="243" y="388.8" font-size="8.0" text-anchor="end" textLength="12.2" lengthAdjust="spacingAndGlyphs" fill="#1a1a1a" stroke="#1a1a1a" stroke-width="0.2">-0.2</text>
<line x1="246.1" y1="391.6" x2="249.5" y2="391.6" stroke="#000" stroke-width="1.2"/>
<line x1="246.1" y1="397.25" x2="249.5" y2="397.25" stroke="#000" stroke-width="1.2"/>
<line x1="246.1" y1="402.9" x2="249.5" y2="402.9" stroke="#000" stroke-width="1.2"/>
<line x1="246.1" y1="408.4" x2="249.5" y2="408.4" stroke="#000" stroke-width="1.2"/>
<text x="243" y="411.2" font-size="8.0" text-anchor="end" textLength="12.2" lengthAdjust="spacingAndGlyphs" fill="#1a1a1a" stroke="#1a1a1a" stroke-width="0.2">-0.4</text>
<line x1="246.1" y1="414" x2="249.5" y2="414" stroke="#000" stroke-width="1.2"/>
<line x1="246.1" y1="419.75" x2="249.5" y2="419.75" stroke="#000" stroke-width="1.2"/>
<g transform="translate(225.4,405.52) rotate(-90)">
<text x="0" y="0" font-size="9.2" text-anchor="middle" textLength="50" lengthAdjust="spacingAndGlyphs" fill="#1a1a1a" stroke="#111" stroke-width="0.32">Enrichment score</text>
</g>
<text x="322.1" y="355.6" font-size="8.0" text-anchor="middle" textLength="98.3" lengthAdjust="spacingAndGlyphs" fill="#1a1a1a" stroke="#1a1a1a" stroke-width="0.2">Bernt DOT1L Down Program</text>
<text x="254.75" y="414.75" font-size="8.0" textLength="36.2" lengthAdjust="spacingAndGlyphs" fill="#1a1a1a" stroke="#1a1a1a" stroke-width="0.2">NES = -4.9</text>
<text x="254.75" y="423.65" font-size="8.0" fill="#1a1a1a" stroke="#1a1a1a" stroke-width="0.2" textLength="35" lengthAdjust="spacingAndGlyphs"><tspan font-style="italic">P</tspan> &lt; 0.0001</text>
<text x="249.8" y="460" font-size="7.9" textLength="66.2" lengthAdjust="spacingAndGlyphs" fill="#1a1a1a" stroke="#1a1a1a" stroke-width="0.2">Postively Correlated</text>
<text x="394.2" y="460" font-size="7.9" text-anchor="end" textLength="72" lengthAdjust="spacingAndGlyphs" fill="#1a1a1a" stroke="#1a1a1a" stroke-width="0.2">Negatively Correlated</text>
<text x="249.8" y="472.2" font-size="7.9" textLength="54.7" lengthAdjust="spacingAndGlyphs" fill="#1a1a1a" stroke="#1a1a1a" stroke-width="0.2">Non-Transduced</text>
<text x="394.2" y="472.2" font-size="7.9" text-anchor="end" textLength="24.5" lengthAdjust="spacingAndGlyphs" fill="#1a1a1a" stroke="#1a1a1a" stroke-width="0.2">DOT1L</text>
<text x="207.9" y="345.5" font-size="11.4" font-weight="bold" fill="#000" stroke="#000" stroke-width="0.25">G</text>
<rect x="0.5" y="0.5" width="519" height="479.5" fill="none" stroke="#000" stroke-width="1"/>
<line x1="0" y1="480.5" x2="520" y2="480.5" stroke="#000" stroke-width="1"/>
</svg></body></html>
